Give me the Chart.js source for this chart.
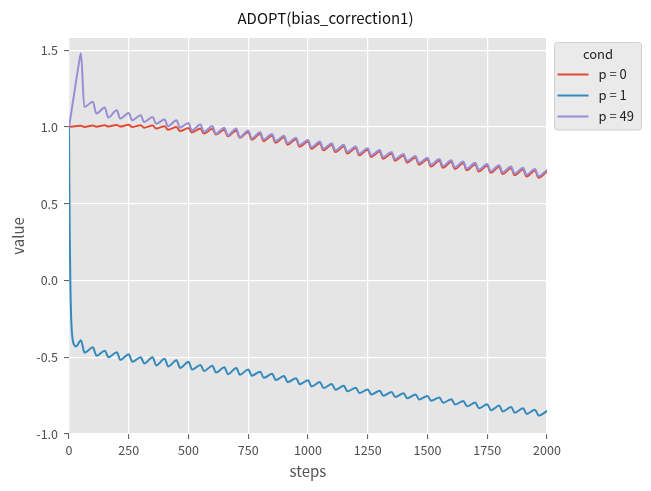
<!DOCTYPE html>
<html>
<head>
<meta charset="utf-8">
<script src="https://cdn.jsdelivr.net/npm/chart.js@4.4.1/dist/chart.umd.min.js"></script>
<style>
  html, body { margin: 0; padding: 0; background: #ffffff; }
  canvas { display: block; }
</style>
</head>
<body>
<canvas id="c" width="651" height="491"></canvas>
<script>
// ---- data ----
const chartTitle = "ADOPT(bias_correction1)";
const legendTitle = "cond";
const seriesLabels = ["p = 0", "p = 1", "p = 49"];
const xTicks = [0, 250, 500, 750, 1000, 1250, 1500, 1750, 2000];
const yTicks = [-1.0, -0.5, 0.0, 0.5, 1.0, 1.5];

const steps = [0,50,64,100,114,150,164,200,214,250,264,300,314,350,364,400,414,450,464,500,514,
  550,564,600,614,650,664,700,714,750,764,800,814,850,864,900,914,950,964,1000,1014,
  1050,1064,1100,1114,1150,1164,1200,1214,1250,1264,1300,1314,1350,1364,1400,1414,1450,1464,1500,1514,
  1550,1564,1600,1614,1650,1664,1700,1714,1750,1764,1800,1814,1850,1864,1900,1914,1950,1964,2000];

const p0Values = [1.0,1.008,1.0,1.01,1.002,1.012,1.003,1.013,1.003,1.014,1.0,1.012,0.996,1.01,0.99,1.005,0.982,1.0,0.974,0.993,0.965,
  0.99,0.958,0.988,0.951,0.982,0.94,0.978,0.93,0.968,0.918,0.956,0.908,0.945,0.897,0.933,0.885,0.92,0.872,0.905,0.858,
  0.895,0.848,0.884,0.837,0.874,0.827,0.863,0.816,0.852,0.805,0.84,0.793,0.828,0.781,0.815,0.768,0.802,0.755,0.79,0.743,
  0.782,0.735,0.774,0.727,0.765,0.718,0.757,0.71,0.749,0.702,0.741,0.694,0.733,0.686,0.725,0.678,0.717,0.67,0.71];

const p49Steps = [0,20,40,50,64,100,114,150,164,200,214,250,264,300,314,350,364,400,414,450,464,500,514,
  550,564,600,614,650,664,700,714,750,764,800,814,850,864,900,914,950,964,1000,1014,
  1050,1064,1100,1114,1150,1164,1200,1214,1250,1264,1300,1314,1350,1364,1400,1414,1450,1464,1500,1514,
  1550,1564,1600,1614,1650,1664,1700,1714,1750,1764,1800,1814,1850,1864,1900,1914,1950,1964,2000];

const p49Values = [1.0,1.2,1.4,1.48,1.13,1.165,1.088,1.127,1.062,1.11,1.055,1.092,1.044,1.077,1.033,1.066,1.022,1.049,1.005,1.044,0.996,1.026,0.978,
  1.016,0.967,1.007,0.956,0.996,0.945,0.99,0.934,0.978,0.926,0.966,0.918,0.955,0.907,0.943,0.895,0.93,0.882,0.915,0.868,
  0.905,0.858,0.894,0.847,0.884,0.837,0.873,0.826,0.862,0.815,0.85,0.803,0.838,0.791,0.825,0.778,0.812,0.765,0.80,0.753,
  0.792,0.745,0.784,0.737,0.775,0.728,0.767,0.72,0.759,0.712,0.751,0.704,0.743,0.696,0.735,0.688,0.727,0.68,0.72];

const p1Steps = [0,3,6,10,15,20,29,50,65,100,115,150,165,200,215,250,265,300,315,350,365,400,415,450,465,500,515,
  550,565,600,615,650,665,700,715,750,765,800,815,850,865,900,915,950,965,1000,1015,
  1050,1065,1100,1115,1150,1165,1200,1215,1250,1265,1300,1315,1350,1365,1400,1415,1450,1465,1500,1515,
  1550,1565,1600,1615,1650,1665,1700,1715,1750,1765,1800,1815,1850,1865,1900,1915,1950,1965,2000];

const p1Values = [1.0,0.3,-0.05,-0.28,-0.38,-0.415,-0.43,-0.39,-0.47,-0.435,-0.49,-0.457,-0.50,-0.468,-0.517,-0.48,-0.53,-0.50,-0.54,-0.50,-0.553,
  -0.51,-0.56,-0.52,-0.57,-0.53,-0.58,-0.55,-0.59,-0.555,-0.60,-0.565,-0.61,-0.57,-0.614,-0.58,-0.62,
  -0.594,-0.634,-0.608,-0.648,-0.622,-0.662,-0.636,-0.676,-0.65,-0.69,
  -0.662,-0.701,-0.674,-0.712,-0.686,-0.722,-0.698,-0.733,-0.71,-0.743,-0.718,-0.751,-0.726,-0.759,-0.734,-0.767,-0.742,-0.775,-0.752,-0.784,
  -0.763,-0.796,-0.774,-0.808,-0.785,-0.82,-0.795,-0.833,-0.806,-0.845,-0.815,-0.853,-0.824,-0.861,-0.833,-0.869,-0.842,-0.88,-0.85];

// ---- chart ----
const FONT = "'Noto Sans CJK JP', 'Noto Sans', 'DejaVu Sans', sans-serif";
const colors = ["#E24A33", "#348ABD", "#988ED5"];

function pts(xs, ys) { return xs.map((x, i) => ({ x: x, y: ys[i] })); }

const bgPlugin = {
  id: 'plotBg',
  beforeDraw(chart) {
    const { ctx, chartArea: a } = chart;
    ctx.save();
    ctx.fillStyle = '#E5E5E5';
    ctx.fillRect(a.left, a.top, a.right - a.left, a.bottom - a.top);
    ctx.restore();
  }
};

const legendPlugin = {
  id: 'sideLegend',
  afterDraw(chart) {
    const ctx = chart.ctx;
    const a = chart.chartArea;
    const x0 = a.right + 7.5, y0 = 42.5, w = 87, h = 87.5, r = 3;
    ctx.save();
    ctx.beginPath();
    ctx.moveTo(x0 + r, y0);
    ctx.lineTo(x0 + w - r, y0);
    ctx.quadraticCurveTo(x0 + w, y0, x0 + w, y0 + r);
    ctx.lineTo(x0 + w, y0 + h - r);
    ctx.quadraticCurveTo(x0 + w, y0 + h, x0 + w - r, y0 + h);
    ctx.lineTo(x0 + r, y0 + h);
    ctx.quadraticCurveTo(x0, y0 + h, x0, y0 + h - r);
    ctx.lineTo(x0, y0 + r);
    ctx.quadraticCurveTo(x0, y0, x0 + r, y0);
    ctx.closePath();
    ctx.fillStyle = '#EAEAEA';
    ctx.fill();
    ctx.strokeStyle = '#D0D0D0';
    ctx.lineWidth = 1;
    ctx.stroke();

    ctx.fillStyle = '#222';
    ctx.font = "13px " + FONT;
    ctx.textAlign = 'center';
    ctx.textBaseline = 'middle';
    ctx.fillText(legendTitle, x0 + w / 2, y0 + 12);

    ctx.textAlign = 'left';
    ctx.font = "13px " + FONT;
    chart.data.datasets.forEach((ds, i) => {
      const yy = y0 + 32 + i * 21;
      ctx.strokeStyle = ds.borderColor;
      ctx.lineWidth = 2;
      ctx.beginPath();
      ctx.moveTo(x0 + 3, yy);
      ctx.lineTo(x0 + 34, yy);
      ctx.stroke();
      ctx.fillStyle = '#222';
      ctx.fillText(ds.label, x0 + 44, yy);
    });
    ctx.restore();
  }
};

new Chart(document.getElementById('c'), {
  type: 'line',
  data: {
    datasets: [
      { label: seriesLabels[0], data: pts(steps, p0Values), borderColor: colors[0], backgroundColor: colors[0], order: 1 },
      { label: seriesLabels[1], data: pts(p1Steps, p1Values), borderColor: colors[1], backgroundColor: colors[1], order: 2 },
      { label: seriesLabels[2], data: pts(p49Steps, p49Values), borderColor: colors[2], backgroundColor: colors[2], order: 0 }
    ]
  },
  options: {
    responsive: false,
    animation: false,
    devicePixelRatio: 1,
    layout: { padding: 0 },
    elements: {
      point: { radius: 0, hoverRadius: 0 },
      line: { borderWidth: 2, cubicInterpolationMode: 'monotone', borderJoinStyle: 'round', borderCapStyle: 'round' }
    },
    plugins: {
      legend: { display: false },
      tooltip: { enabled: false },
      title: {
        display: true,
        text: chartTitle,
        color: '#111',
        font: { family: FONT, size: 15, weight: 'normal' },
        padding: { top: 9, bottom: 11 }
      }
    },
    scales: {
      x: {
        type: 'linear',
        min: 0,
        max: 2000,
        afterBuildTicks(s) { s.ticks = xTicks.map(v => ({ value: v })); },
        afterFit(s) { s.height = 57; },
        ticks: {
          callback: v => String(v),
          color: '#4d4d4d',
          font: { family: FONT, size: 12.5 },
          padding: 4,
          maxRotation: 0,
          autoSkip: false
        },
        grid: { color: '#ffffff', lineWidth: 1.2, tickColor: '#555', tickLength: 5, tickWidth: 1 },
        border: { display: false },
        title: { display: true, text: 'steps', color: '#555', font: { family: FONT, size: 15 }, padding: { top: 2, bottom: 11 } }
      },
      y: {
        type: 'linear',
        position: 'left',
        min: -1.0,
        max: 1.58,
        afterBuildTicks(s) { s.ticks = yTicks.map(v => ({ value: v })); },
        afterFit(s) { s.width = 69; },
        ticks: {
          callback: v => Number(v).toFixed(1),
          color: '#4d4d4d',
          font: { family: FONT, size: 12.5 },
          padding: 6,
          autoSkip: false
        },
        grid: { color: '#ffffff', lineWidth: 1.2, tickColor: '#555', tickLength: 5, tickWidth: 1 },
        border: { display: false },
        title: { display: true, text: 'value', color: '#555', font: { family: FONT, size: 15 }, padding: { top: 9, bottom: 0 } }
      },
      gutter: {
        type: 'linear',
        axis: 'y',
        position: 'right',
        display: true,
        afterFit(s) { s.width = 104; },
        ticks: { display: false },
        grid: { display: false, drawTicks: false },
        border: { display: false }
      }
    }
  },
  plugins: [bgPlugin, legendPlugin]
});
</script>
</body>
</html>
